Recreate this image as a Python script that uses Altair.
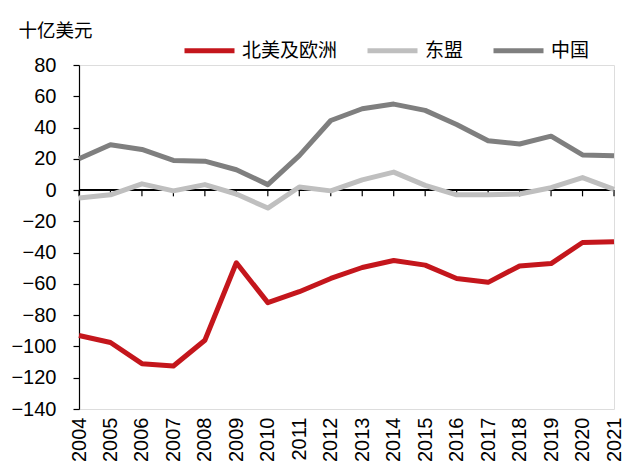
import altair as alt
import pandas as pd

years = [str(y) for y in range(2004, 2022)]
na_eu = [-93, -97.5, -111, -112.5, -96, -46.5, -72, -65, -56.5, -49.5, -45, -48, -56.5, -59, -48.5, -47, -33.5, -33]
asean = [-5, -3, 4, -0.5, 3.5, -2.5, -11.5, 2, -0.5, 6.5, 11.5, 3, -3, -3, -2.5, 1.5, 8, 0.5]
china = [20, 29, 26, 19, 18.5, 13, 3.5, 22, 44.5, 52, 55, 51, 42, 31.5, 29.5, 34.5, 22.5, 22]
series_names = ["北美及欧洲", "东盟", "中国"]
colors = ["#C4161C", "#BFBFBF", "#7F7F7F"]
y_ticks = list(range(-140, 81, 20))

rows = []
for name, vals in zip(series_names, [na_eu, asean, china]):
    for yr, v in zip(years, vals):
        rows.append({"year": yr, "value": v, "series": name, "order": series_names.index(name)})
df = pd.DataFrame(rows)
years_df = pd.DataFrame({"year": years, "zero": [0.0] * len(years), "tick_end": [-4.0] * len(years)})

W, H = 535, 344
NUM_FONT = "Liberation Sans"
CJK_FONT = "Noto Sans CJK SC"

x_scale = alt.Scale(type="point", padding=0, domain=years)
y_scale = alt.Scale(domain=[-140, 80], nice=False, zero=False)

x_axis = alt.Axis(title=None, labelAngle=-90, labelAlign="right", labelBaseline="middle",
                  labelFont=NUM_FONT, labelFontSize=20, labelColor="#000",
                  labelPadding=8, domain=False, ticks=False, grid=False,
                  labelOverlap=False)
y_axis = alt.Axis(values=y_ticks, title="十亿美元", titleAngle=0, titleAlign="left",
                  titleBaseline="middle", titleX=-61, titleY=-35, titleFont=CJK_FONT,
                  titleFontSize=18.5, titleFontWeight="normal", titleColor="#000",
                  labelFont=NUM_FONT, labelFontSize=20, labelColor="#000",
                  labelPadding=17, ticks=True, tickSize=6, tickColor="#000000",
                  tickWidth=1.2, tickOpacity=1, domainColor="#000", domainWidth=1.2,
                  grid=False, labelOverlap=False, labelFlush=False)

lines = alt.Chart(df).mark_line(strokeWidth=5, strokeJoin="round").encode(
    x=alt.X("year:O", scale=x_scale, axis=x_axis),
    y=alt.Y("value:Q", scale=y_scale, axis=y_axis),
    color=alt.Color("series:N", scale=alt.Scale(domain=series_names, range=colors),
                    legend=alt.Legend(title=None, orient="none", legendX=103, legendY=-42,
                                      direction="horizontal", symbolType="stroke",
                                      symbolStrokeWidth=5, symbolSize=2500, labelFont=CJK_FONT,
                                      labelFontSize=19, labelColor="#000", labelOffset=5,
                                      columnPadding=19, padding=0)),
    order=alt.Order("order:Q"),
)

zero_rule = alt.Chart(years_df).mark_rule(color="#000", strokeWidth=1.2).encode(
    y=alt.datum(0, scale=y_scale, axis=y_axis), x=alt.value(0), x2=alt.value(W)
)
zero_ticks = alt.Chart(years_df).mark_rule(color="#000000", strokeWidth=1.2, opacity=1).encode(
    x=alt.X("year:O", scale=x_scale, axis=x_axis),
    y=alt.Y("zero:Q", scale=y_scale, axis=y_axis),
    y2=alt.Y2("tick_end:Q"),
)

chart = alt.layer(zero_rule, zero_ticks, lines).properties(
    width=W, height=H,
    autosize=alt.AutoSizeParams(type="none"),
    padding={"left": 79, "top": 65, "right": 26, "bottom": 67},
).configure_view(stroke=None).configure_axis(
    labelOverlap=False, ticks=True
).configure(background="white")

chart.save("out.html", embed_options={"renderer": "svg", "actions": False})
